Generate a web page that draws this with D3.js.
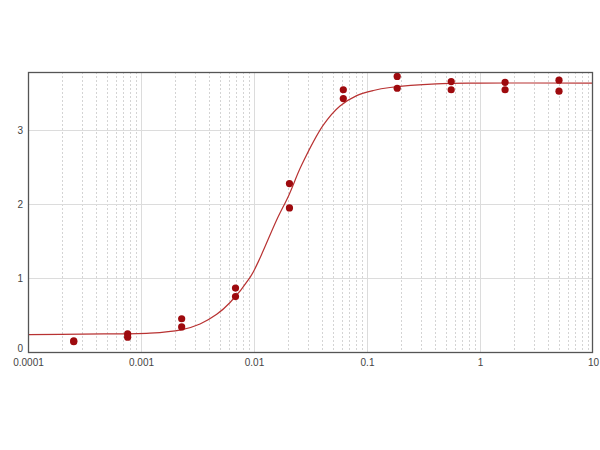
<!DOCTYPE html>
<html>
<head>
<meta charset="utf-8">
<script src="https://cdn.jsdelivr.net/npm/d3@7"></script>
<style>
  html, body { margin: 0; padding: 0; background: #fff; }
  svg { display: block; }
  text { font-family: "Liberation Sans", Arial, sans-serif; }
</style>
</head>
<body>
<svg id="chart" width="600" height="450"></svg>
<script>
// Concentrations (3-fold dilution series)
const concentrations = [0.000254, 0.000762, 0.00229, 0.00686, 0.0206, 0.0617, 0.185, 0.556, 1.667, 5];
// Replicate readings
const replicateA = [0.15, 0.245, 0.45, 0.865, 2.28, 3.55, 3.73, 3.66, 3.65, 3.68];
const replicateB = [0.14, 0.20, 0.34, 0.75, 1.95, 3.43, 3.57, 3.55, 3.55, 3.53];
// Fitted curve
const curveX = [0.0001, 0.0003, 0.0012, 0.00226, 0.00333, 0.00468, 0.00614, 0.00923, 0.0109, 0.0159, 0.0203, 0.0264, 0.041, 0.0577, 0.0811, 0.114, 0.16, 0.41, 1, 10];
const curveY = [0.235, 0.243, 0.255, 0.30, 0.38, 0.51, 0.67, 1.01, 1.22, 1.79, 2.12, 2.53, 3.07, 3.33, 3.47, 3.54, 3.58, 3.63, 3.64, 3.64];
// Axis ticks
const xTicks = [0.0001, 0.001, 0.01, 0.1, 1, 10];
const xTickLabels = ["0.0001", "0.001", "0.01", "0.1", "1", "10"];
const yTicks = [0, 1, 2, 3];

(function () {
const svg = d3.select("#chart");
const pLeft = 28, pRight = 593, pTop = 72, pBottom = 352;

const x = d3.scaleLog().domain([0.0001, 10]).range([pLeft, pRight]);
const y = d3.scaleLinear().domain([0, 3.79]).range([pBottom, pTop]);

// minor vertical grid
const minor = [];
for (let e = -4; e < 1; e++) {
  for (let m = 2; m <= 9; m++) minor.push(m * Math.pow(10, e));
}
svg.append("g").selectAll("line").data(minor).join("line")
  .attr("x1", d => Math.round(x(d)) + 0.5).attr("x2", d => Math.round(x(d)) + 0.5)
  .attr("y1", pTop).attr("y2", pBottom)
  .attr("stroke", "#d4d4d4").attr("stroke-width", 1).attr("stroke-dasharray", "2,2");

// major vertical grid
svg.append("g").selectAll("line").data(xTicks.slice(1, -1)).join("line")
  .attr("x1", d => Math.round(x(d)) + 0.5).attr("x2", d => Math.round(x(d)) + 0.5)
  .attr("y1", pTop).attr("y2", pBottom)
  .attr("stroke", "#dcdcdc").attr("stroke-width", 1);

// horizontal grid
svg.append("g").selectAll("line").data(yTicks.slice(1)).join("line")
  .attr("x1", pLeft).attr("x2", pRight)
  .attr("y1", d => Math.round(y(d)) + 0.5).attr("y2", d => Math.round(y(d)) + 0.5)
  .attr("stroke", "#dcdcdc").attr("stroke-width", 1);

// curve
const line = d3.line()
  .x((d, i) => x(curveX[i]))
  .y(d => y(d))
  .curve(d3.curveCatmullRom.alpha(0.5));
svg.append("path").datum(curveY)
  .attr("d", line)
  .attr("fill", "none")
  .attr("stroke", "#b83232")
  .attr("stroke-width", 1.2);

// points
const pts = [];
concentrations.forEach((c, i) => {
  pts.push({ x: c, y: replicateA[i] });
  pts.push({ x: c, y: replicateB[i] });
});
svg.append("g").selectAll("circle").data(pts).join("circle")
  .attr("cx", d => x(d.x)).attr("cy", d => y(d.y))
  .attr("r", 3.6)
  .attr("fill", "#9e0a0e");

// frame
svg.append("rect")
  .attr("x", pLeft + 0.5).attr("y", pTop + 0.5)
  .attr("width", pRight - pLeft - 1).attr("height", pBottom - pTop)
  .attr("fill", "none").attr("stroke", "#555").attr("stroke-width", 1.3);

// x axis labels
const xAxis = d3.axisBottom(x).tickValues(xTicks)
  .tickFormat((d, i) => xTickLabels[i]).tickSize(0).tickPadding(7);
const gx = svg.append("g").attr("transform", `translate(0,${pBottom})`).call(xAxis);
gx.select(".domain").remove();
gx.selectAll("text").attr("font-size", 10).attr("fill", "#444")
  .attr("font-family", "Liberation Sans, Arial, sans-serif");

// y axis labels
const yAxis = d3.axisLeft(y).tickValues(yTicks).tickFormat(d3.format("d"))
  .tickSize(0).tickPadding(5);
const gy = svg.append("g").attr("transform", `translate(${pLeft},0)`).call(yAxis);
gy.select(".domain").remove();
gy.selectAll("text").attr("font-size", 10).attr("fill", "#444")
  .attr("font-family", "Liberation Sans, Arial, sans-serif")
  .attr("dy", d => d === 0 ? "-0.05em" : "0.32em");
})();
</script>
</body>
</html>
